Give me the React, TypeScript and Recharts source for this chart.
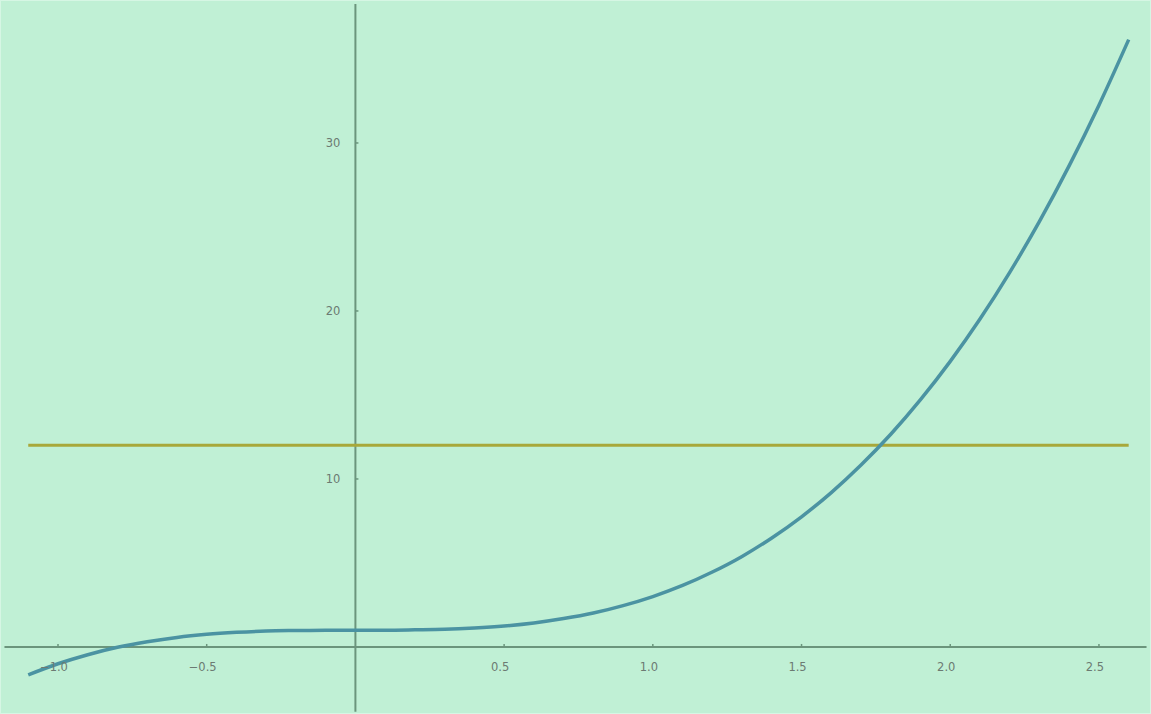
import React from 'react';
import {
  ComposedChart,
  Line,
  Scatter,
  XAxis,
  YAxis,
  ReferenceLine
} from 'recharts';

// curve values
const curveX = [
  -1.1, -1.0, -0.9, -0.8, -0.7, -0.6, -0.5, -0.4, -0.3, -0.2, -0.1, 0,
  0.1, 0.2, 0.3, 0.4, 0.5, 0.6, 0.7, 0.8, 0.9, 1.0, 1.1, 1.2, 1.3, 1.4,
  1.5, 1.6, 1.7, 1.8, 1.9, 2.0, 2.1, 2.2, 2.3, 2.4, 2.5, 2.6
];
const curveY = [
  -1.66, -1.0, -0.46, -0.02, 0.31, 0.57, 0.75, 0.87, 0.95, 0.98, 1.0, 1.0,
  1.0, 1.02, 1.05, 1.13, 1.25, 1.43, 1.69, 2.02, 2.46, 3.0, 3.66, 4.46, 5.39, 6.49,
  7.75, 9.19, 10.83, 12.66, 14.72, 17.0, 19.52, 22.3, 25.33, 28.65, 32.25, 36.15
];

const levelX = [-1.1, 2.6];
const levelY = 12;

const xTicks = [-1.0, -0.5, 0.5, 1.0, 1.5, 2.0, 2.5];
const xTickLabels = ['\u22121.0', '\u22120.5', '0.5', '1.0', '1.5', '2.0', '2.5'];
const yTicks = [10, 20, 30];
const yTickLabels = ['10', '20', '30'];

const xDomain = [-1.195, 2.675];
const yDomain = [-3.99, 38.51];

const curveData = curveX.map((x, i) => ({ x, y: curveY[i] }));
const levelData = levelX.map((x) => ({ x, y: levelY }));
const xTickData = xTicks.map((x, i) => ({ x, y: 0, label: xTickLabels[i] }));
const yTickData = yTicks.map((y, i) => ({ x: 0, y, label: yTickLabels[i] }));

const AXIS = '#6b957c';
const LABEL = '#6c7a72';

const XTickMark = (props: any) => {
  const { cx, cy, payload } = props;
  return (
    <g>
      <line x1={cx} y1={cy} x2={cx} y2={cy - 3} stroke={AXIS} strokeWidth={1.5} />
      <text
        x={cx - 4}
        y={cy + 24}
        textAnchor="middle"
        fontSize={11.5}
        fontFamily="'DejaVu Sans', sans-serif"
        fill={LABEL}
      >
        {payload.label}
      </text>
    </g>
  );
};

const YTickMark = (props: any) => {
  const { cx, cy, payload } = props;
  return (
    <g>
      <line x1={cx} y1={cy} x2={cx + 3} y2={cy} stroke={AXIS} strokeWidth={1.5} />
      <text
        x={cx - 15}
        y={cy + 4}
        textAnchor="end"
        fontSize={11.5}
        fontFamily="'DejaVu Sans', sans-serif"
        fill={LABEL}
      >
        {payload.label}
      </text>
    </g>
  );
};

const App: React.FC = () => {
  return (
    <div
      style={{
        position: 'absolute',
        left: 0,
        top: 0,
        width: 1151,
        height: 714,
        background: '#c0f0d5',
        boxShadow: 'inset 0 0 0 1px #d6f6e4'
      }}
    >
      <ComposedChart
        width={1151}
        height={714}
        margin={{ top: 0, right: 0, bottom: 0, left: 0 }}
      >
        <XAxis
          type="number"
          dataKey="x"
          domain={xDomain}
          allowDataOverflow
          hide
        />
        <YAxis
          type="number"
          dataKey="y"
          domain={yDomain}
          allowDataOverflow
          hide
        />
        <ReferenceLine
          segment={[{ x: -1.18, y: 0 }, { x: 2.66, y: 0 }]}
          stroke={AXIS}
          strokeWidth={2}
        />
        <ReferenceLine
          segment={[{ x: 0, y: -3.85 }, { x: 0, y: 38.27 }]}
          stroke={AXIS}
          strokeWidth={2}
        />
        <Scatter data={xTickData} shape={<XTickMark />} isAnimationActive={false} />
        <Scatter data={yTickData} shape={<YTickMark />} isAnimationActive={false} />
        <Line
          data={levelData}
          dataKey="y"
          type="linear"
          stroke="#a8a83a"
          strokeWidth={3}
          dot={false}
          activeDot={false}
          isAnimationActive={false}
        />
        <Line
          data={curveData}
          dataKey="y"
          type="monotone"
          stroke="#4b93a2"
          strokeWidth={3.5}
          dot={false}
          activeDot={false}
          isAnimationActive={false}
        />
      </ComposedChart>
    </div>
  );
};

export default App;
